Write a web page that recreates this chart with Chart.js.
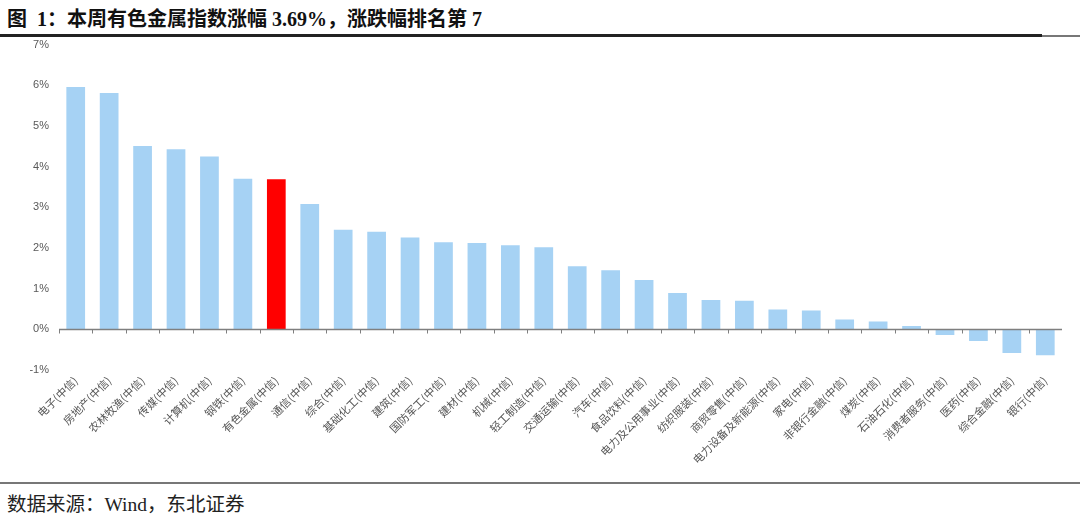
<!DOCTYPE html>
<html>
<head>
<meta charset="utf-8">
<script src="https://cdn.jsdelivr.net/npm/chart.js@4"></script>
<style>
    html, body { margin: 0; padding: 0; background: #fff; }
    body { width: 1080px; height: 517px; position: relative; overflow: hidden; }
    #title {
        position: absolute; left: 7px; top: 3px;
        font-family: "Liberation Serif", "Noto Sans CJK SC", serif;
        font-weight: bold; font-size: 20px; color: #111; white-space: nowrap;
    }
    #ruleTop { position: absolute; left: 0; top: 34px; width: 1042px; height: 3px; background: #222; }
    #ruleTopThin { position: absolute; left: 1042px; top: 35px; width: 38px; height: 1.5px; background: #777; }
    #ruleBottom { position: absolute; left: 0; top: 482px; width: 1080px; height: 1.5px; background: #777; }
    #source {
        position: absolute; left: 7px; top: 488px;
        font-family: "Liberation Serif", "Noto Sans CJK SC", serif;
        font-size: 19.5px; color: #222; white-space: nowrap;
    }
    #wrap { position: absolute; left: 0; top: 28px; width: 1062px; height: 447px; }
</style>
</head>
<body>
<div id="title">图&nbsp;&nbsp;1：本周有色金属指数涨幅 3.69%，涨跌幅排名第 7</div>
<div id="ruleTop"></div>
<div id="ruleTopThin"></div>
<div id="wrap"><canvas id="barChart"></canvas></div>
<div id="ruleBottom"></div>
<div id="source">数据来源：Wind，东北证券</div>

<script>
// Industry names (CITIC level-1)
const industries = [
    '电子', '房地产', '农林牧渔', '传媒', '计算机', '钢铁', '有色金属', '通信',
    '综合', '基础化工', '建筑', '国防军工', '建材', '机械', '轻工制造', '交通运输',
    '汽车', '食品饮料', '电力及公用事业', '纺织服装', '商贸零售', '电力设备及新能源',
    '家电', '非银行金融', '煤炭', '石油石化', '消费者服务', '医药', '综合金融', '银行'
];

// Weekly change, %
const weeklyChange = [
    5.96, 5.81, 4.51, 4.43, 4.25, 3.70, 3.69, 3.08,
    2.45, 2.40, 2.26, 2.14, 2.12, 2.07, 2.02, 1.55,
    1.45, 1.21, 0.89, 0.72, 0.70, 0.49,
    0.46, 0.24, 0.19, 0.08, -0.14, -0.29, -0.58, -0.64
];

const highlight = '有色金属';
const yTicks = [-1, 0, 1, 2, 3, 4, 5, 6, 7];

const labels = industries.map(n => n + '(中信)');
const barColors = industries.map(n => n === highlight ? '#ff0000' : '#a6d2f4');

// Zero line with small tick marks at category boundaries
const zeroAxis = {
    id: 'zeroAxis',
    afterDatasetsDraw(chart) {
        const { ctx, chartArea, scales } = chart;
        const x = scales.x, y = scales.y;
        const y0 = Math.round(y.getPixelForValue(0)) + 0.5;
        const step = x.getPixelForValue(1) - x.getPixelForValue(0);
        ctx.save();
        ctx.strokeStyle = '#7f7f7f';
        ctx.lineWidth = 1.5;
        ctx.beginPath();
        ctx.moveTo(chartArea.left, y0);
        ctx.lineTo(chartArea.right, y0);
        ctx.stroke();
        ctx.lineWidth = 1;
        ctx.beginPath();
        for (let i = 0; i <= industries.length; i++) {
            const px = Math.round(x.getPixelForValue(i) - step / 2) + 0.5;
            ctx.moveTo(px, y0);
            ctx.lineTo(px, y0 + 4);
        }
        ctx.stroke();
        ctx.restore();
    }
};

const ctx = document.getElementById('barChart').getContext('2d');

new Chart(ctx, {
    type: 'bar',
    data: {
        labels: labels,
        datasets: [{
            data: weeklyChange,
            backgroundColor: barColors,
            borderWidth: 0,
            categoryPercentage: 1,
            barPercentage: 0.56
        }]
    },
    options: {
        responsive: true,
        maintainAspectRatio: false,
        animation: false,
        layout: { padding: 0 },
        plugins: {
            legend: { display: false },
            tooltip: { enabled: false }
        },
        scales: {
            x: {
                grid: { display: false, drawTicks: false },
                border: { display: false },
                afterFit(scale) { scale.height = 105; },
                ticks: {
                    autoSkip: false,
                    maxRotation: 45,
                    minRotation: 45,
                    padding: 4,
                    color: '#555',
                    font: { family: '"Noto Sans CJK SC"', size: 11 }
                }
            },
            y: {
                min: -1,
                max: 7,
                afterFit(scale) { scale.width = 59; },
                afterBuildTicks(scale) { scale.ticks = yTicks.map(v => ({ value: v })); },
                grid: { display: false, drawTicks: false },
                border: { display: false },
                ticks: {
                    padding: 10,
                    color: '#595959',
                    font: { family: '"Liberation Sans", Arial', size: 11 },
                    callback: v => v + '%'
                }
            }
        }
    },
    plugins: [zeroAxis]
});
</script>
</body>
</html>
